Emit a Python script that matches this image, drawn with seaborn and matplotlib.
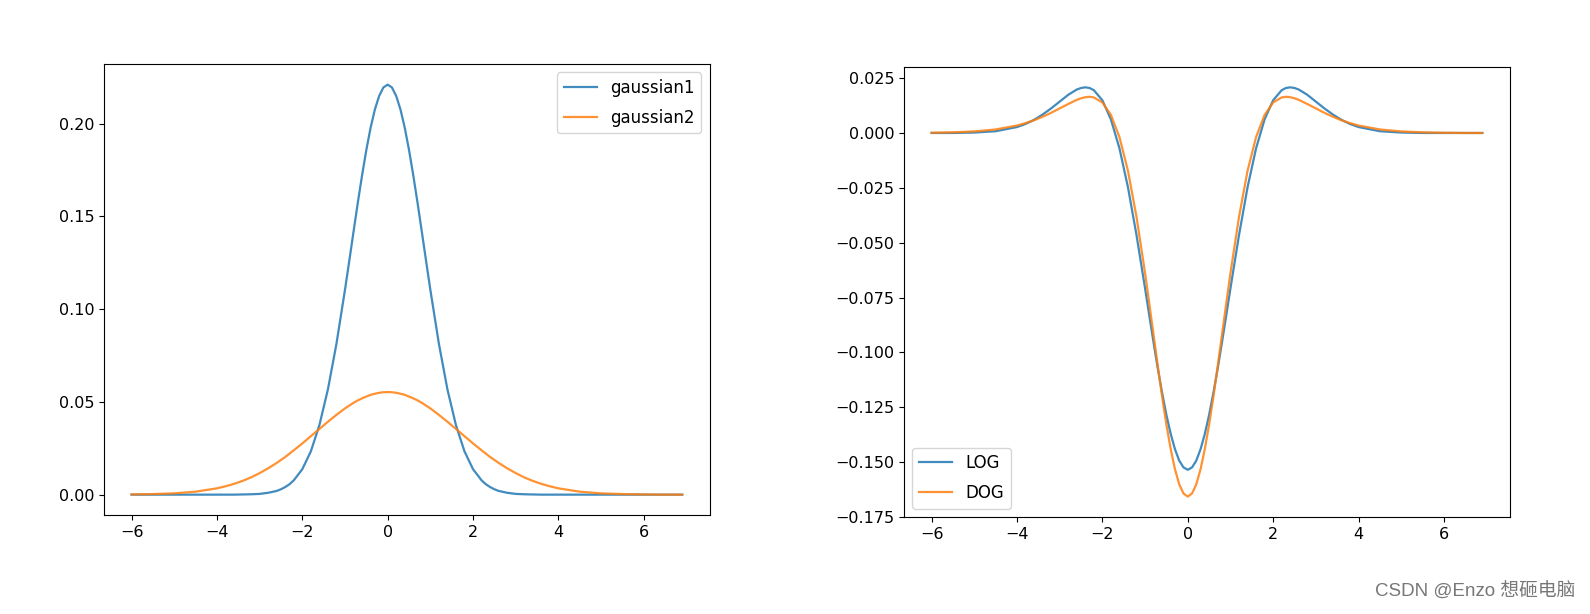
import matplotlib
matplotlib.use("Agg")
import matplotlib.pyplot as plt
import seaborn as sns
import pandas as pd

# x positions sampled along the curves
x = [-6.0, -5.5, -5.0, -4.5,
     -4.0, -3.8, -3.6, -3.4, -3.2, -3.0, -2.8, -2.6, -2.5, -2.4, -2.3, -2.2, -2.0,
     -1.8, -1.6, -1.4, -1.2, -1.0, -0.9, -0.8, -0.7, -0.6, -0.5, -0.4, -0.3, -0.2, -0.1,
     0.0,
     0.1, 0.2, 0.3, 0.4, 0.5, 0.6, 0.7, 0.8, 0.9, 1.0, 1.2, 1.4, 1.6, 1.8,
     2.0, 2.2, 2.3, 2.4, 2.5, 2.6, 2.8, 3.0, 3.2, 3.4, 3.6, 3.8, 4.0,
     4.5, 5.0, 5.5, 6.0, 6.5, 6.9]

gaussian1 = [0.0, 0.0, 0.0, 0.0,
             0.0, 0.0, 0.0, 0.0001, 0.0002, 0.0004, 0.0010, 0.0020, 0.0029, 0.0041, 0.0056, 0.0077, 0.0137,
             0.0233, 0.0374, 0.0567, 0.0813, 0.1104, 0.1259, 0.1417, 0.1573, 0.1721, 0.1858, 0.1978, 0.2076, 0.2149, 0.2195,
             0.2210,
             0.2195, 0.2149, 0.2076, 0.1978, 0.1858, 0.1721, 0.1573, 0.1417, 0.1259, 0.1104, 0.0813, 0.0567, 0.0374, 0.0233,
             0.0137, 0.0077, 0.0056, 0.0041, 0.0029, 0.0020, 0.0010, 0.0004, 0.0002, 0.0001, 0.0, 0.0, 0.0,
             0.0, 0.0, 0.0, 0.0, 0.0, 0.0]

gaussian2 = [0.0001, 0.0003, 0.0007, 0.0016,
             0.0034, 0.0045, 0.0058, 0.0074, 0.0093, 0.0116, 0.0142, 0.0171, 0.0187, 0.0203, 0.0221, 0.0239, 0.0276,
             0.0315, 0.0354, 0.0393, 0.0430, 0.0465, 0.0480, 0.0495, 0.0508, 0.0519, 0.0529, 0.0538, 0.0544, 0.0549, 0.0552,
             0.0553,
             0.0552, 0.0549, 0.0544, 0.0538, 0.0529, 0.0519, 0.0508, 0.0495, 0.0480, 0.0465, 0.0430, 0.0393, 0.0354, 0.0315,
             0.0276, 0.0239, 0.0221, 0.0203, 0.0187, 0.0171, 0.0142, 0.0116, 0.0093, 0.0074, 0.0058, 0.0045, 0.0034,
             0.0016, 0.0007, 0.0003, 0.0001, 0.0, 0.0]

log_vals = [0.0, 0.0, 0.0002, 0.0008,
            0.0027, 0.0041, 0.0060, 0.0084, 0.0112, 0.0143, 0.0174, 0.0198, 0.0205, 0.0208, 0.0205, 0.0195, 0.0149,
            0.0062, -0.0070, -0.0248, -0.0466, -0.0708, -0.0833, -0.0956, -0.1075, -0.1185, -0.1285, -0.1371, -0.1441, -0.1493, -0.1524,
            -0.1535,
            -0.1524, -0.1493, -0.1441, -0.1371, -0.1285, -0.1185, -0.1075, -0.0956, -0.0833, -0.0708, -0.0466, -0.0248, -0.0070, 0.0062,
            0.0149, 0.0195, 0.0205, 0.0208, 0.0205, 0.0198, 0.0174, 0.0143, 0.0112, 0.0084, 0.0060, 0.0041, 0.0027,
            0.0008, 0.0002, 0.0, 0.0, 0.0, 0.0]

dog_vals = [0.0001, 0.0003, 0.0007, 0.0016,
            0.0034, 0.0045, 0.0058, 0.0074, 0.0092, 0.0112, 0.0132, 0.0151, 0.0158, 0.0163, 0.0165, 0.0162, 0.0139,
            0.0082, -0.0019, -0.0173, -0.0383, -0.0639, -0.0779, -0.0923, -0.1065, -0.1202, -0.1329, -0.1440, -0.1532, -0.1601, -0.1643,
            -0.1657,
            -0.1643, -0.1601, -0.1532, -0.1440, -0.1329, -0.1202, -0.1065, -0.0923, -0.0779, -0.0639, -0.0383, -0.0173, -0.0019, 0.0082,
            0.0139, 0.0162, 0.0165, 0.0163, 0.0158, 0.0151, 0.0132, 0.0112, 0.0092, 0.0074, 0.0058, 0.0045, 0.0034,
            0.0016, 0.0007, 0.0003, 0.0001, 0.0, 0.0]

df = pd.DataFrame({"x": x, "gaussian1": gaussian1, "gaussian2": gaussian2,
                   "LOG": log_vals, "DOG": dog_vals})

plt.rcParams["font.size"] = 11.5

fig = plt.figure(figsize=(15.9, 6.14), dpi=100)
ax1 = fig.add_axes([0.0654, 0.161, 0.381, 0.7345])
ax2 = fig.add_axes([0.5686, 0.158, 0.381, 0.733])

# left: the two gaussians
sns.lineplot(data=df, x="x", y="gaussian1", ax=ax1, label="gaussian1", color="C0", alpha=0.85, lw=1.6)
sns.lineplot(data=df, x="x", y="gaussian2", ax=ax1, label="gaussian2", color="C1", alpha=0.85, lw=1.6)
ax1.legend(loc="upper right", fontsize=12, labelspacing=0.7)

# right: LOG vs DOG
sns.lineplot(data=df, x="x", y="LOG", ax=ax2, label="LOG", color="C0", alpha=0.85, lw=1.6)
sns.lineplot(data=df, x="x", y="DOG", ax=ax2, label="DOG", color="C1", alpha=0.85, lw=1.6)
ax2.legend(loc="lower left", fontsize=12, labelspacing=0.7)

for ax in (ax1, ax2):
    ax.set_xlabel("")
    ax.set_ylabel("")
ax1.set_yticks([0.0, 0.05, 0.10, 0.15, 0.20])
ax2.set_yticks([0.025, 0.0, -0.025, -0.05, -0.075, -0.1, -0.125, -0.15, -0.175])
ax2.set_ylim(-0.175, 0.0301)

fig.text(0.991, 0.037, "CSDN @Enzo 想砸电脑", ha="right", va="center", fontsize=13.5,
         color="#777777", family=["Liberation Sans", "Noto Sans CJK SC"])

fig.savefig("out.png", dpi=100)
